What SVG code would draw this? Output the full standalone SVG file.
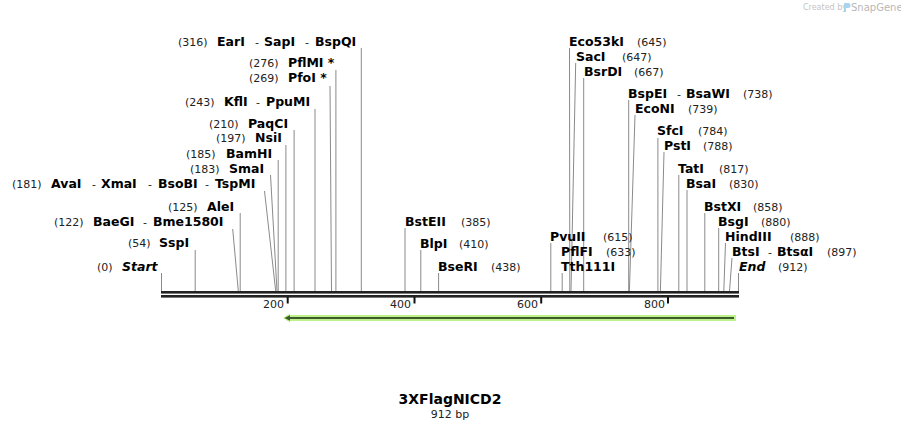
<svg xmlns="http://www.w3.org/2000/svg" width="901" height="430" viewBox="0 0 901 430">
<style>
text{font-family:"DejaVu Sans","Verdana",sans-serif;fill:#000}
.n{font-size:11px;fill:#222}
.e{font-size:12.5px;font-weight:bold}
.i{font-style:italic}
.d{font-size:11px;fill:#222}
.cl line{stroke:#8a8a8a;stroke-width:1}
.tk{font-size:11px;fill:#222;text-anchor:end}
</style>
<rect width="901" height="430" fill="#fff"/>
<g id="logo">
<text x="803" y="10" style="font-size:8px;fill:#c4c4c4">Created by</text>
<path d="M844,3 h4 a2.5,2.5 0 0 1 0,5 h-2 v4 h-2 z" fill="#a9d4ee"/>
<text x="851" y="11" style="font-size:10px;fill:#b8b8b8">SnapGene</text>
</g>
<g id="connectors" class="cl">
<line x1="361.3" y1="48" x2="361.3" y2="291"/>
<line x1="335.9" y1="70" x2="335.9" y2="291"/>
<line x1="330" y1="86" x2="331.5" y2="291"/>
<line x1="315" y1="109" x2="315" y2="291"/>
<line x1="294.1" y1="130" x2="294.1" y2="291"/>
<line x1="285.9" y1="145" x2="285.9" y2="291"/>
<line x1="278.2" y1="160" x2="278.2" y2="291"/>
<line x1="270.5" y1="175" x2="277" y2="291"/>
<line x1="264.5" y1="191" x2="275.7" y2="291"/>
<line x1="240.2" y1="213" x2="240.2" y2="291"/>
<line x1="232.7" y1="229" x2="238.3" y2="291"/>
<line x1="195.2" y1="250" x2="195.2" y2="291"/>
<line x1="161.5" y1="273" x2="161.5" y2="291"/>
<line x1="405" y1="228" x2="405" y2="291"/>
<line x1="420.8" y1="250" x2="420.8" y2="291"/>
<line x1="438.6" y1="273" x2="438.6" y2="291"/>
<line x1="550.8" y1="243" x2="550.8" y2="291"/>
<line x1="562.2" y1="273" x2="562.2" y2="291"/>
<line x1="569.5" y1="48" x2="569.8" y2="291"/>
<line x1="575.7" y1="63" x2="571" y2="291"/>
<line x1="583.7" y1="78" x2="583.7" y2="291"/>
<line x1="628.7" y1="100" x2="628.7" y2="291"/>
<line x1="635" y1="115" x2="629.4" y2="291"/>
<line x1="657.9" y1="138" x2="657.9" y2="291"/>
<line x1="664" y1="152" x2="660.4" y2="291"/>
<line x1="678.8" y1="175" x2="678.8" y2="291"/>
<line x1="687" y1="190" x2="687" y2="291"/>
<line x1="704.8" y1="213" x2="704.8" y2="291"/>
<line x1="718.7" y1="228" x2="718.7" y2="291"/>
<line x1="725.5" y1="243" x2="723.8" y2="291"/>
<line x1="732" y1="258" x2="729.5" y2="291"/>
<line x1="738.5" y1="273" x2="738.5" y2="291"/>
</g>
<g id="axis">
<rect x="161" y="291" width="578" height="2.6" fill="#222"/>
<rect x="161" y="295" width="578" height="2.6" fill="#222"/>
<rect x="286.7" y="297" width="2" height="6.5" fill="#111"/>
<rect x="413.5" y="297" width="2" height="6.5" fill="#111"/>
<rect x="540.2" y="297" width="2" height="6.5" fill="#111"/>
<rect x="667" y="297" width="2" height="6.5" fill="#111"/>
<text class="tk" x="284" y="308">200</text>
<text class="tk" x="411" y="308">400</text>
<text class="tk" x="538" y="308">600</text>
<text class="tk" x="665" y="308">800</text>
</g>
<g id="feature">
<path d="M283,318 L290,313.5 L290,315 L736,315 L736,321 L290,321 L290,322.5 Z" fill="#bdf28a"/>
<line x1="288" y1="318" x2="734" y2="318" stroke="#3d5a2c" stroke-width="2.2"/>
<path d="M284.5,318 L290,315.2 L290,320.8 Z" fill="#3d5a2c"/>
</g>
<g id="site-316"><text y="46"><tspan class="n" x="178">(316)</tspan><tspan class="e" x="217">EarI</tspan><tspan class="d" x="255">-</tspan><tspan class="e" x="264">SapI</tspan><tspan class="d" x="305">-</tspan><tspan class="e" x="315">BspQI</tspan></text></g>
<g id="site-276"><text y="67"><tspan class="n" x="249">(276)</tspan><tspan class="e" x="288">PflMI *</tspan></text></g>
<g id="site-269"><text y="82"><tspan class="n" x="249">(269)</tspan><tspan class="e" x="288">PfoI *</tspan></text></g>
<g id="site-243"><text y="106"><tspan class="n" x="185">(243)</tspan><tspan class="e" x="224">KflI</tspan><tspan class="d" x="256">-</tspan><tspan class="e" x="266">PpuMI</tspan></text></g>
<g id="site-210"><text y="128"><tspan class="n" x="209">(210)</tspan><tspan class="e" x="248">PaqCI</tspan></text></g>
<g id="site-197"><text y="142"><tspan class="n" x="216">(197)</tspan><tspan class="e" x="255">NsiI</tspan></text></g>
<g id="site-185"><text y="158"><tspan class="n" x="186">(185)</tspan><tspan class="e" x="226">BamHI</tspan></text></g>
<g id="site-183"><text y="173"><tspan class="n" x="190">(183)</tspan><tspan class="e" x="229">SmaI</tspan></text></g>
<g id="site-181"><text y="188"><tspan class="n" x="12">(181)</tspan><tspan class="e" x="51">AvaI</tspan><tspan class="d" x="92">-</tspan><tspan class="e" x="101">XmaI</tspan><tspan class="d" x="148">-</tspan><tspan class="e" x="158">BsoBI</tspan><tspan class="d" x="205">-</tspan><tspan class="e" x="215">TspMI</tspan></text></g>
<g id="site-125"><text y="211"><tspan class="n" x="168">(125)</tspan><tspan class="e" x="207">AleI</tspan></text></g>
<g id="site-122"><text y="226"><tspan class="n" x="54">(122)</tspan><tspan class="e" x="93">BaeGI</tspan><tspan class="d" x="143">-</tspan><tspan class="e" x="153">Bme1580I</tspan></text></g>
<g id="site-54"><text y="247"><tspan class="n" x="128">(54)</tspan><tspan class="e" x="159">SspI</tspan></text></g>
<g id="site-0"><text y="271"><tspan class="n" x="97">(0)</tspan><tspan class="e i" x="122">Start</tspan></text></g>
<g id="site-385"><text y="226"><tspan class="e" x="405">BstEII</tspan><tspan class="n" x="461">(385)</tspan></text></g>
<g id="site-410"><text y="248"><tspan class="e" x="420">BlpI</tspan><tspan class="n" x="459">(410)</tspan></text></g>
<g id="site-438"><text y="271"><tspan class="e" x="438">BseRI</tspan><tspan class="n" x="491">(438)</tspan></text></g>
<g id="site-615"><text y="241"><tspan class="e" x="550">PvuII</tspan><tspan class="n" x="603">(615)</tspan></text></g>
<g id="site-633"><text y="256"><tspan class="e" x="561">PflFI</tspan><tspan class="n" x="606">(633)</tspan></text><text y="271"><tspan class="e" x="561">Tth111I</tspan></text></g>
<g id="site-645"><text y="46"><tspan class="e" x="569">Eco53kI</tspan><tspan class="n" x="637">(645)</tspan></text></g>
<g id="site-647"><text y="61"><tspan class="e" x="576">SacI</tspan><tspan class="n" x="622">(647)</tspan></text></g>
<g id="site-667"><text y="76"><tspan class="e" x="584">BsrDI</tspan><tspan class="n" x="634">(667)</tspan></text></g>
<g id="site-738"><text y="98"><tspan class="e" x="628">BspEI</tspan><tspan class="d" x="677">-</tspan><tspan class="e" x="686">BsaWI</tspan><tspan class="n" x="743">(738)</tspan></text></g>
<g id="site-739"><text y="113"><tspan class="e" x="635">EcoNI</tspan><tspan class="n" x="688">(739)</tspan></text></g>
<g id="site-784"><text y="135"><tspan class="e" x="657">SfcI</tspan><tspan class="n" x="698">(784)</tspan></text></g>
<g id="site-788"><text y="150"><tspan class="e" x="664">PstI</tspan><tspan class="n" x="703">(788)</tspan></text></g>
<g id="site-817"><text y="173"><tspan class="e" x="678">TatI</tspan><tspan class="n" x="719">(817)</tspan></text></g>
<g id="site-830"><text y="188"><tspan class="e" x="686">BsaI</tspan><tspan class="n" x="729">(830)</tspan></text></g>
<g id="site-858"><text y="211"><tspan class="e" x="704">BstXI</tspan><tspan class="n" x="753">(858)</tspan></text></g>
<g id="site-880"><text y="226"><tspan class="e" x="718">BsgI</tspan><tspan class="n" x="761">(880)</tspan></text></g>
<g id="site-888"><text y="241"><tspan class="e" x="725">HindIII</tspan><tspan class="n" x="790">(888)</tspan></text></g>
<g id="site-897"><text y="256"><tspan class="e" x="732">BtsI</tspan><tspan class="d" x="768">-</tspan><tspan class="e" x="777">BtsαI</tspan><tspan class="n" x="827">(897)</tspan></text></g>
<g id="site-912"><text y="271"><tspan class="e i" x="739">End</tspan><tspan class="n" x="778">(912)</tspan></text></g>
<g id="title">
<text x="450" y="404" text-anchor="middle" style="font-size:14px;font-weight:bold">3XFlagNICD2</text>
<text x="450" y="418" text-anchor="middle" style="font-size:11px;fill:#222">912 bp</text>
</g>
</svg>
